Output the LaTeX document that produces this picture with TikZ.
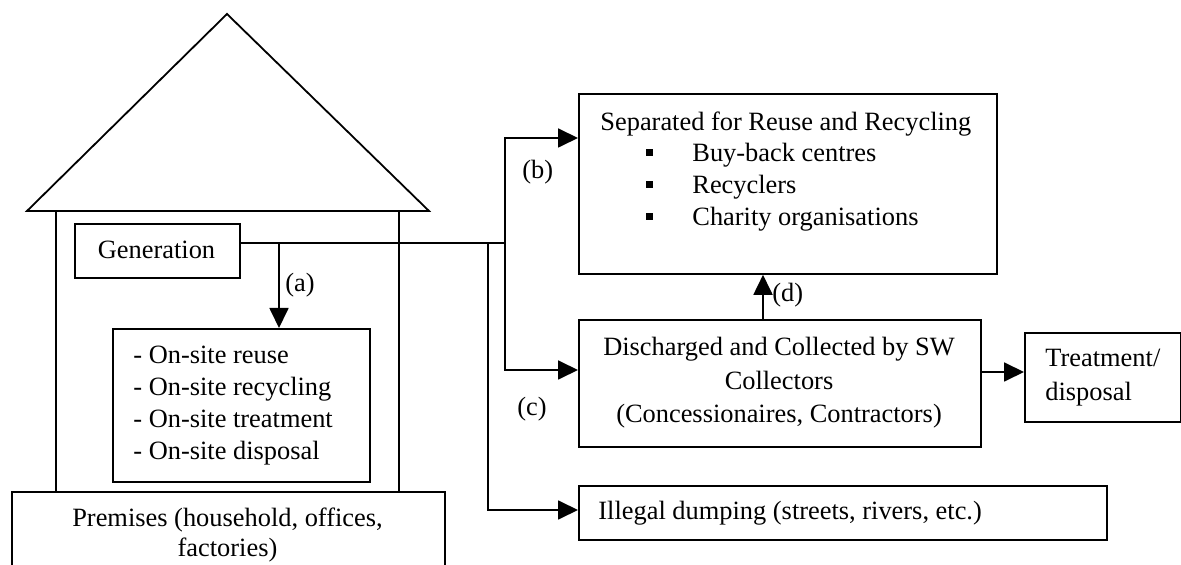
\documentclass[tikz,border=0pt]{standalone}
\usepackage{fontspec}
\setmainfont{Liberation Serif}
\usetikzlibrary{arrows.meta}
\begin{document}
\begin{tikzpicture}[x=0.5pt,y=-0.5pt,
  ln/.style={line width=0.9pt},
  boxst/.style={draw,line width=0.9pt,inner sep=0,anchor=north west},
  arr/.style={line width=0.9pt,-{Triangle[length=10pt,width=9.5pt]}},
  txt/.style={inner sep=0,font=\fontsize{13.2}{16}\selectfont},
  bul/.style={fill=black,inner sep=0,minimum size=3.5pt}]
\useasboundingbox (0,0) rectangle (1181,565);
\clip (0,0) rectangle (1181,565);
% house
\coordinate (apex) at (227,14);
\coordinate (rl) at (27,211);
\coordinate (rr) at (429,211);
\draw[ln,line join=miter] (rl) -- (apex) -- (rr) -- cycle;
\coordinate (wl) at (56,211);
\coordinate (wr) at (399,211);
% boxes
\node[boxst,minimum width=165*0.5pt,minimum height=54*0.5pt] (gen) at (74,223) {};
\node[boxst,minimum width=257*0.5pt,minimum height=153*0.5pt] (onsite) at (112,328) {};
\node[boxst,minimum width=433*0.5pt,minimum height=90*0.5pt] (prem) at (11,491) {};
\node[boxst,minimum width=418*0.5pt,minimum height=180*0.5pt] (sep) at (578,93) {};
\node[boxst,minimum width=402*0.5pt,minimum height=127*0.5pt] (disch) at (578,319) {};
\node[boxst,minimum width=156*0.5pt,minimum height=89*0.5pt] (treat) at (1024,332) {};
\node[boxst,minimum width=528*0.5pt,minimum height=54*0.5pt] (illegal) at (578,485) {};
\draw[ln] (wl) -- (wl |- prem.north);
\draw[ln] (wr) -- (wr |- prem.north);
% texts
\node[txt,anchor=base] (tgen) at (156.5,259) {Generation};
\node[txt,anchor=base west] (on1) at (133,364) {- On-site reuse};
\node[txt,anchor=base west] (on2) at (133,396) {- On-site recycling};
\node[txt,anchor=base west] (on3) at (133,428) {- On-site treatment};
\node[txt,anchor=base west] (on4) at (133,460) {- On-site disposal};
\node[txt,anchor=base] (pr1) at (227.5,526) {Premises (household, offices,};
\node[txt,anchor=base] (pr2) at (227.5,556) {factories)};
\node[txt,anchor=base west] (sp0) at (600,131) {Separated for Reuse and Recycling};
\node[bul] (b1) at (649,153) {};
\node[bul] (b2) at (649,185) {};
\node[bul] (b3) at (649,217) {};
\node[txt,anchor=base west] (sp1) at (692,162) {Buy-back centres};
\node[txt,anchor=base west] (sp2) at (692,194) {Recyclers};
\node[txt,anchor=base west] (sp3) at (692,226) {Charity organisations};
\node[txt,anchor=base] (d1) at (779,356) {Discharged and Collected by SW};
\node[txt,anchor=base] (d2) at (779,390) {Collectors};
\node[txt,anchor=base] (d3) at (779,423) {(Concessionaires, Contractors)};
\node[txt,anchor=base west] (t1) at (1045,367) {Treatment/};
\node[txt,anchor=base west] (t2) at (1045,401) {disposal};
\node[txt,anchor=base west] (il) at (598,519) {Illegal dumping (streets, rivers, etc.)};
\node[txt,anchor=base west] (la) at (285,292) {(a)};
\node[txt,anchor=base west] (lb) at (522,179) {(b)};
\node[txt,anchor=base west] (lc) at (517,416) {(c)};
\node[txt,anchor=base west] (ld) at (772,302) {(d)};
% connectors
\coordinate (ja) at (279,243);
\coordinate (jd) at (488,243);
\coordinate (jb) at (505,243);
\coordinate (bt) at (505,138);
\coordinate (cb) at (505,370);
\coordinate (dx) at (763,300);
\coordinate (tr) at (1024,372);
\coordinate (il0) at (488,510);
\draw[ln] (gen.east |- ja) -- (jb);
\draw[arr] (ja) -- (ja |- onsite.north);
\draw[arr] (jb) -- (bt) -- (bt -| sep.west);
\draw[arr] (jb) -- (cb) -- (cb -| disch.west);
\draw[arr] (jd) -- (il0) -- (il0 -| illegal.west);
\draw[arr] (dx |- disch.north) -- (dx |- sep.south);
\draw[arr] (disch.east |- tr) -- (treat.west |- tr);
\end{tikzpicture}
\end{document}
